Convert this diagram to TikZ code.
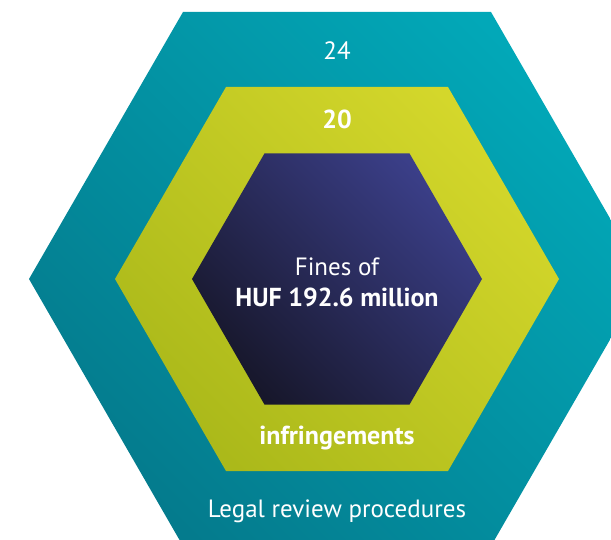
\documentclass[tikz,border=0pt]{standalone}
\usepackage{fontspec}
\setmainfont{PT Sans}
\definecolor{tealA}{HTML}{047B8D}
\definecolor{tealB}{HTML}{02A8B8}
\definecolor{limeA}{HTML}{ABB91A}
\definecolor{limeB}{HTML}{D4D72B}
\definecolor{navyA}{HTML}{17172B}
\definecolor{navyB}{HTML}{3B3F89}
\tikzset{
  lbl/.style={text=white, anchor=base, inner sep=0pt, font=\fontsize{25}{30}\selectfont},
  blbl/.style={lbl, font=\fontsize{26}{31}\selectfont\bfseries},
}
\begin{document}
\begin{tikzpicture}[x=1pt,y=-1pt]
\useasboundingbox (0,0) rectangle (611,540);
\clip (0,0) rectangle (611,540);
% outer hexagon, center (337,279), radius 308
\shade[top color=tealB, bottom color=tealA, shading angle=-45]
  (183,12) -- (491,12) -- (645,279) -- (491,546) -- (183,546) -- (29,279) -- cycle;
% middle hexagon, radius 222
\shade[top color=limeB, bottom color=limeA, shading angle=-45]
  (226,87) -- (448,87) -- (559,279) -- (448,471) -- (226,471) -- (115,279) -- cycle;
% inner hexagon, radius 145
\shade[top color=navyB, bottom color=navyA, shading angle=-45]
  (264.5,153.4) -- (409.5,153.4) -- (482,279) -- (409.5,404.6) -- (264.5,404.6) -- (192,279) -- cycle;
\node[lbl] (n24) at (337,60) {24};
\node[blbl] (n20) at (337,129) {20};
\node[lbl] (fines) at (337,275.5) {Fines of};
\node[blbl] (huf) at (337,306.5) {HUF 192.6 million};
\node[blbl] (infr) at (337,444) {infringements};
\node[lbl] (legal) at (337,517.5) {Legal review procedures};
\end{tikzpicture}
\end{document}
